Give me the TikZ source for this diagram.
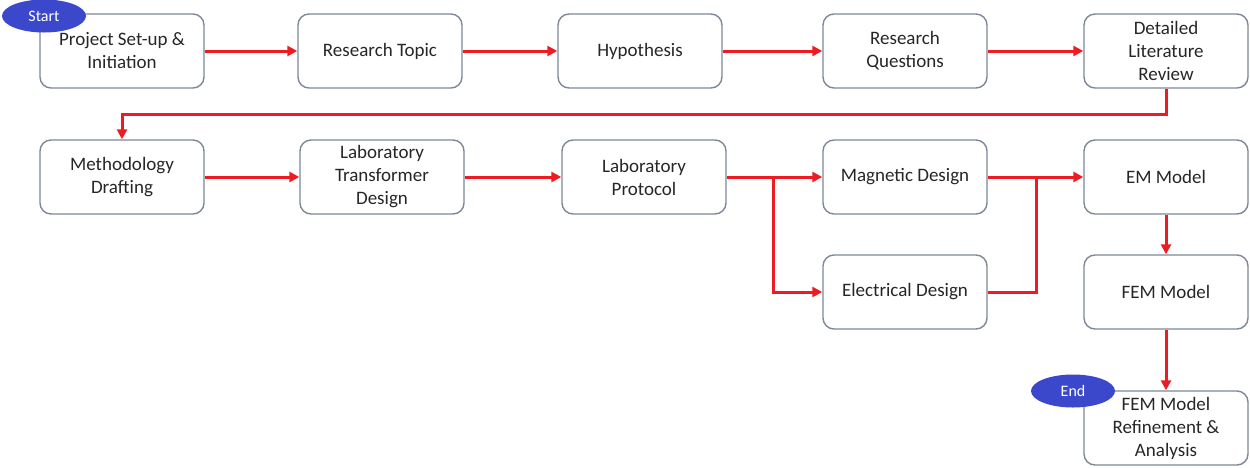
\documentclass[tikz,border=0pt]{standalone}
\usepackage{fontspec}
\setmainfont{Carlito}
\usetikzlibrary{arrows.meta, shapes.geometric}

\definecolor{boxgray}{RGB}{125,135,150}
\definecolor{flowred}{RGB}{237,28,36}
\definecolor{termblue}{RGB}{59,72,204}

\begin{document}
\begin{tikzpicture}[%
        > = {Triangle[length = 10pt, width = 10pt]},
        x = 1pt,
        y = -1pt,
        stage/.style = {draw = boxgray, line width = 1.4pt, rounded corners = 11pt,
            minimum width = 164pt, minimum height = 74pt, align = center,
            text = black!85, font = \fontsize{19}{23}\selectfont},
        flow/.style = {->, draw = flowred, line width = 3pt},
        terminal/.style = {ellipse, fill = termblue, text = white,
            minimum width = 84pt, minimum height = 33pt,
            font = \fontsize{16}{19}\selectfont}
    ]

        \useasboundingbox (0, 0) rectangle (1250, 467);

        % First row.
        \node[stage] (setup) at (122, 51) {Project Set-up \&\\Initiation};
        \node[stage] (topic) at (380, 51) {Research Topic};
        \node[stage] (hyp) at (640, 51) {Hypothesis};
        \node[stage] (quest) at (905, 51) {Research\\Questions};
        \node[stage] (lit) at (1166, 51) {Detailed\\Literature\\Review};

        % Second row.
        \node[stage] (meth) at (122, 177) {Methodology\\Drafting};
        \node[stage] (trafo) at (382, 177) {Laboratory\\Transformer\\Design};
        \node[stage] (prot) at (644, 177) {Laboratory\\Protocol};
        \node[stage] (mag) at (905, 177) {Magnetic Design};
        \node[stage] (em) at (1166, 177) {EM Model};

        % Third and fourth rows.
        \node[stage] (elec) at (905, 292) {Electrical Design};
        \node[stage] (fem) at (1166, 292) {FEM Model};
        \node[stage] (refine) at (1166, 428) {FEM Model\\Refinement \&\\Analysis};

        % Start and end markers.
        \node[terminal] (start) at (44, 16) {Start};
        \node[terminal] (end) at (1073, 391) {End};

        % Straight connectors.
        \foreach \a/\b in {setup/topic, topic/hyp, hyp/quest, quest/lit,
                meth/trafo, trafo/prot, prot/mag, mag/em}{%
            \draw[flow] (\a) -- (\b);
        }
        \draw[flow] (em) -- (fem);
        \draw[flow] (fem) -- (refine);

        % Elbow connectors.
        \coordinate (split) at (773, 177);
        \coordinate (join) at (1036, 177);
        \draw[flow] (lit.south) -- ++(0, 26) -| (meth.north);
        \draw[flow] (split) |- (elec.west);
        \draw[draw = flowred, line width = 3pt] (elec.east) -| (join);
    \end{tikzpicture}
\end{document}
